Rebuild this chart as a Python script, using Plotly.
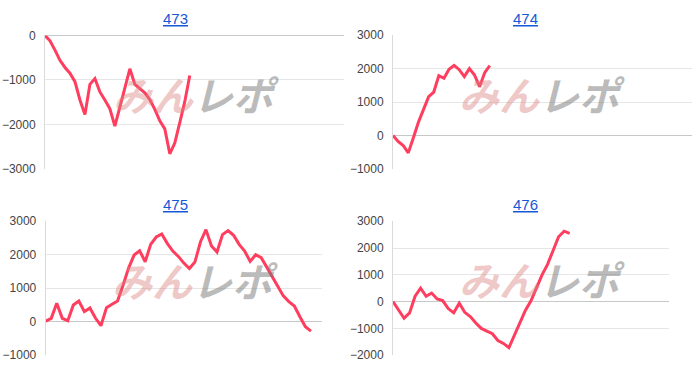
import plotly.graph_objects as go

# ---- data ----
titles = ["473", "474", "475", "476"]
s473 = [0, -120, -330, -560, -720, -850, -1040, -1450, -1780, -1100, -970, -1270, -1450, -1650,
        -2040, -1610, -1180, -750, -1100, -1200, -1290, -1440, -1660, -1920, -2100, -2660, -2420,
        -1960, -1490, -900]
s474 = [0, -180, -300, -520, -70, 400, 780, 1160, 1300, 1790, 1710, 1980, 2100, 1970, 1760,
        2000, 1810, 1460, 1880, 2090]
s475 = [20, 100, 550, 100, 30, 500, 620, 300, 410, 110, -120, 420, 520, 620, 1090, 1600, 1990,
        2120, 1790, 2310, 2530, 2620, 2340, 2110, 1950, 1750, 1590, 1780, 2380, 2750, 2260, 2080,
        2600, 2720, 2580, 2310, 2110, 1800, 2000, 1910, 1630, 1350, 1080, 770, 600, 470, 150,
        -150, -280]
s476 = [0, -320, -620, -420, 200, 500, 200, 320, 100, 40, -260, -420, -60, -400, -560, -800,
        -1000, -1100, -1200, -1450, -1560, -1720, -1240, -800, -320, 30, 500, 1000, 1390, 1900,
        2420, 2630, 2550]
series = [s473, s474, s475, s476]
y_ranges = [[-3000, 0], [-1000, 3000], [-1000, 3000], [-2000, 3000]]
x_spans = [59.9, 58.7, 50.0, 50.0]

W, H = 700, 386
# plot areas in pixels: (left, right, top, bottom)
boxes = [(45, 344, 29.5, 168), (393, 692, 29.3, 168), (45.7, 322, 222.3, 361.3), (393, 669, 222.3, 361.3)]
title_pos = [(175, 12), (525, 12), (175, 205), (525, 205)]
wm_pos = [(196, 90), (542, 90), (195, 283), (542, 282)]

LINE = "#ff3d5e"
fig = go.Figure()
layout = dict(width=W, height=H, margin=dict(l=0, r=0, t=0, b=0),
              paper_bgcolor="white", plot_bgcolor="white", showlegend=False,
              font=dict(family="Liberation Sans, Arial, sans-serif", size=12, color="#444"))
annotations = []
for k in range(4):
    n = k + 1
    xa = "x" if n == 1 else f"x{n}"
    ya = "y" if n == 1 else f"y{n}"
    vals = series[k]
    fig.add_trace(go.Scatter(x=list(range(len(vals))), y=vals, mode="lines",
                             line=dict(color=LINE, width=3), xaxis=xa, yaxis=ya,
                             hoverinfo="skip"))
    l, r, t, b = boxes[k]
    layout["xaxis" if n == 1 else f"xaxis{n}"] = dict(
        domain=[l / W, r / W], range=[0, x_spans[k]], showgrid=False, zeroline=False,
        showticklabels=False, showline=False, anchor=ya, fixedrange=True)
    layout["yaxis" if n == 1 else f"yaxis{n}"] = dict(
        domain=[1 - b / H, 1 - t / H], range=y_ranges[k], dtick=1000, tick0=0,
        showgrid=True, gridcolor="#e6e6e6", gridwidth=1,
        zeroline=True, zerolinecolor="#c8c8c8", zerolinewidth=1,
        showline=True, linecolor="#dadada", linewidth=1, ticks="",
        ticklabelstandoff=6, tickfont=dict(size=12, color="#444"),
        anchor=xa, fixedrange=True)
    tx, ty = title_pos[k]
    annotations.append(dict(text=f"<u>{titles[k]}</u>", x=tx / W, y=1 - ty / H, xref="paper",
                            yref="paper", showarrow=False, xanchor="center", yanchor="middle",
                            font=dict(size=15, color="#1558d6",
                                      family="Liberation Sans, Arial, sans-serif")))
    wx, wy = wm_pos[k]
    annotations.append(dict(
        text="<b><i><span style='color:rgba(220,130,130,0.45)'>みん</span>"
             "<span style='color:rgba(120,120,120,0.5)'>レポ</span></i></b>",
        x=wx / W, y=1 - wy / H, xref="paper", yref="paper", showarrow=False,
        xanchor="center", yanchor="middle",
        font=dict(size=40, family="Noto Sans CJK JP, sans-serif")))
layout["annotations"] = annotations
fig.update_layout(**layout)
fig.write_html("out.html")
